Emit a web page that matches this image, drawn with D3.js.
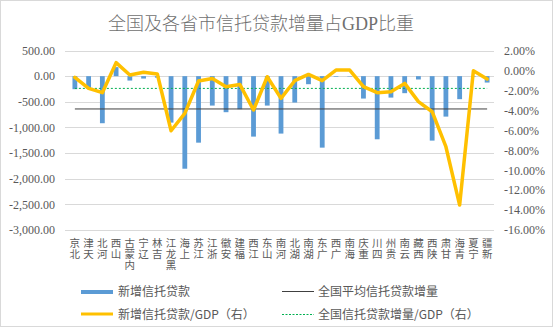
<!DOCTYPE html>
<html><head><meta charset="utf-8">
<script src="https://cdn.jsdelivr.net/npm/d3@7"></script>
<style>
html,body{margin:0;padding:0;background:#fff;}
svg{display:block;}
</style></head>
<body>
<svg id="c" width="554" height="330"></svg>
<script>
const title = "全国及各省市信托贷款增量占GDP比重";
const categories = ["北京","天津","河北","山西","内蒙古","辽宁","吉林","黑龙江","上海","江苏","浙江","安徽","福建","江西","山东","河南","湖北","湖南","广东","广西","海南","重庆","四川","贵州","云南","西藏","陕西","甘肃","青海","宁夏","新疆"];
const newTrustLoans = [-254,-240,-918,176,-86,-47,-30,-906,-1805,-1297,-574,-703,-645,-1179,-574,-1120,-515,-157,-1394,-12,-8,-437,-1231,-418,-332,-65,-1257,-789,-449,-10,-125];
const loanToGdp = [-0.69,-1.80,-2.23,0.78,-0.46,-0.19,-0.36,-6.05,-4.31,-1.06,-0.80,-1.63,-1.40,-3.97,-0.63,-2.80,-1.03,-0.40,-1.03,0.04,0.04,-1.63,-2.23,-2.13,-1.30,-3.13,-4.14,-7.65,-13.50,-0.03,-0.86];
const nationalAvgLoan = -640;
const nationalLoanToGdp = -1.80;
const leftTicks = [500,0,-500,-1000,-1500,-2000,-2500,-3000];
const rightTicks = [2,0,-2,-4,-6,-8,-10,-12,-14,-16];
const legendLabels = ["新增信托贷款","全国平均信托贷款增量","新增信托贷款/GDP（右）","全国信托贷款增量/GDP（右）"];

const svg = d3.select("#c");
const grey = "#595959";
const cjk = "'Noto Sans CJK SC','Noto Sans',sans-serif";
const serif = "'Liberation Serif','Noto Sans CJK SC',serif";

svg.append("rect").attr("x",0.5).attr("y",0.5).attr("width",552).attr("height",326)
  .attr("fill","#fff").attr("stroke","#d9d9d9");

const loc = d3.formatLocale({decimal:".",thousands:",",grouping:[3],currency:["",""],minus:"-"});
const fL = loc.format(",.2f");
const fR = v => loc.format(".2f")(v) + "%";

const x = d3.scaleBand().domain(categories).range([68,494]);
const cx = c => x(c) + x.bandwidth()/2;
const yL = d3.scaleLinear().domain([-3000,500]).range([230,50.5]);
const yR = d3.scaleLinear().domain([-16,2]).range([230,50.5]);

// title
svg.append("text").attr("x",261).attr("y",30).attr("text-anchor","middle")
  .attr("font-family",serif).attr("font-size",18).attr("font-weight",300).attr("fill","#6f6f6f").text(title);

// gridlines
svg.append("g").selectAll("line").data(leftTicks).join("line")
  .attr("x1",65).attr("x2",494).attr("y1",d=>Math.round(yL(d))+0.5).attr("y2",d=>Math.round(yL(d))+0.5)
  .attr("stroke","#d9d9d9").attr("stroke-width",1);

// axes
const axL = svg.append("g").attr("transform","translate(58,0)")
  .call(d3.axisLeft(yL).tickValues(leftTicks).tickFormat(fL).tickSize(0).tickPadding(3));
const axR = svg.append("g").attr("transform","translate(501,0)")
  .call(d3.axisRight(yR).tickValues(rightTicks).tickFormat(fR).tickSize(0).tickPadding(3));
[axL,axR].forEach(a=>{
  a.select(".domain").remove();
  a.selectAll("text").attr("font-family",serif).attr("font-size",12).attr("fill",grey);
});

// bars
const bw = 4.8;
svg.append("g").selectAll("rect").data(categories).join("rect")
  .attr("x",(c)=>cx(c)-bw/2)
  .attr("y",(c,i)=>Math.min(yL(newTrustLoans[i]),yL(0)))
  .attr("width",bw)
  .attr("height",(c,i)=>Math.abs(yL(newTrustLoans[i])-yL(0)))
  .attr("fill","#5B9BD5");

// national average line
svg.append("line").attr("x1",cx(categories[0])).attr("x2",cx(categories[categories.length-1]))
  .attr("y1",yL(nationalAvgLoan)).attr("y2",yL(nationalAvgLoan))
  .attr("stroke","#404040").attr("stroke-width",1);

// green dashed
svg.append("line").attr("x1",cx(categories[0])).attr("x2",cx(categories[categories.length-1]))
  .attr("y1",yR(nationalLoanToGdp)).attr("y2",yR(nationalLoanToGdp))
  .attr("stroke","#00B050").attr("stroke-width",1).attr("stroke-dasharray","2,2");

// yellow line
const line = d3.line().x((d,i)=>cx(categories[i])).y(d=>yR(d));
svg.append("path").datum(loanToGdp).attr("d",line).attr("fill","none")
  .attr("stroke","#FFC000").attr("stroke-width",3.5).attr("stroke-linejoin","round").attr("stroke-linecap","round");

// category labels: vertical, characters stacked and read bottom-to-top
svg.append("g").selectAll("text").data(categories).join("text")
  .attr("x",c=>cx(c)).attr("y",238)
  .style("writing-mode","vertical-rl").style("text-orientation","upright")
  .attr("font-family",cjk).attr("font-size",10.5).attr("letter-spacing",0.5).attr("fill",grey)
  .text(c=>Array.from(c).reverse().join(""));

// legend
const lg = svg.append("g").attr("font-family",cjk).attr("font-size",12).attr("fill",grey);
lg.append("rect").attr("x",81).attr("y",290).attr("width",32).attr("height",4).attr("fill","#5B9BD5");
lg.append("text").attr("x",118).attr("y",296).text(legendLabels[0]);
lg.append("line").attr("x1",282).attr("x2",314).attr("y1",291.5).attr("y2",291.5).attr("stroke","#404040").attr("stroke-width",1);
lg.append("text").attr("x",318).attr("y",296).text(legendLabels[1]);
lg.append("line").attr("x1",81).attr("x2",113).attr("y1",314).attr("y2",314).attr("stroke","#FFC000").attr("stroke-width",3);
lg.append("text").attr("x",118).attr("y",318.5).text(legendLabels[2]);
lg.append("line").attr("x1",282).attr("x2",314).attr("y1",314.5).attr("y2",314.5).attr("stroke","#00B050").attr("stroke-width",1).attr("stroke-dasharray","2,1.5");
lg.append("text").attr("x",318).attr("y",318.5).text(legendLabels[3]);
</script>
</body></html>
